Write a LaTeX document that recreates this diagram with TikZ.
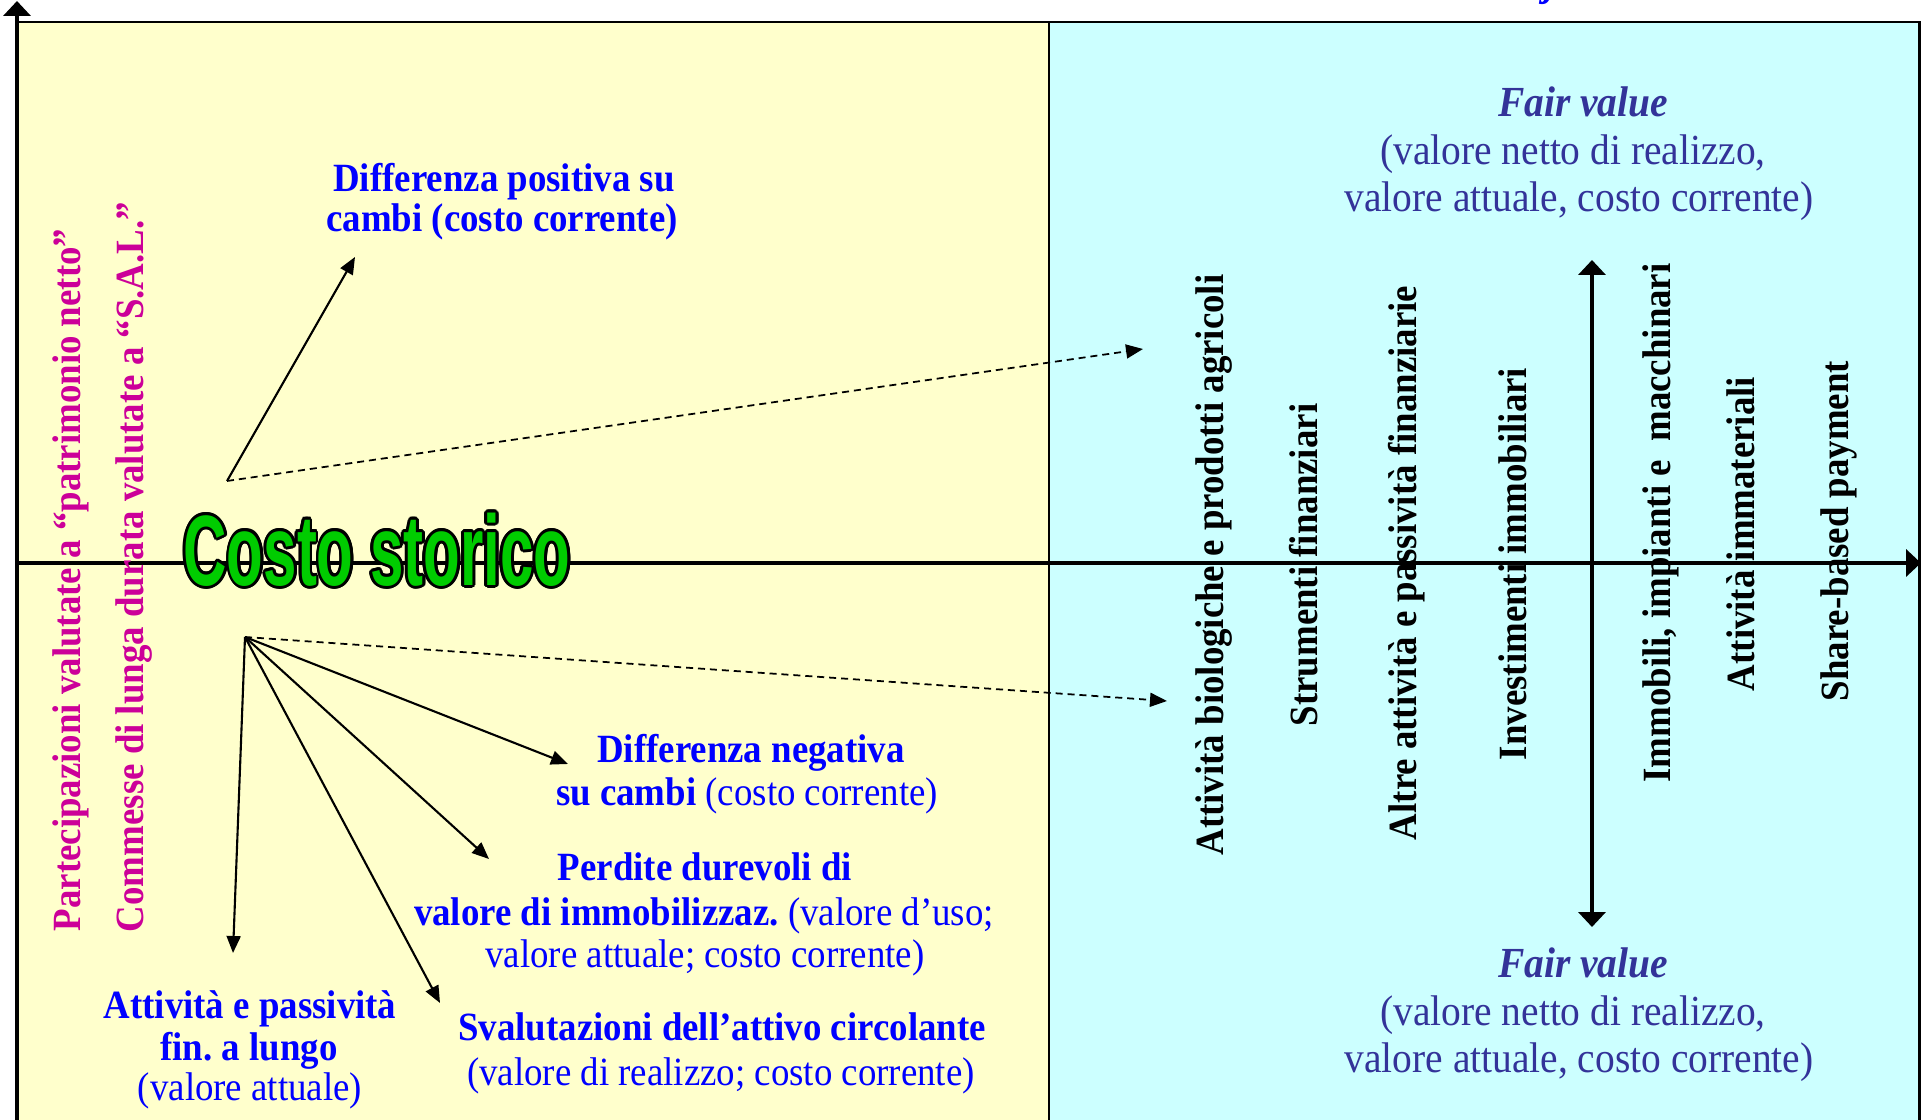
\documentclass[tikz,border=0pt]{standalone}
\usepackage{fontspec}
\setmainfont{Liberation Serif}[FakeStretch=0.92]
\newfontfamily\costofont{Liberation Sans}[FakeStretch=0.6]
\usepackage{xcolor}
\definecolor{paleyellow}{HTML}{FFFFCC}
\definecolor{palecyan}{HTML}{CCFFFF}
\definecolor{fairblue}{HTML}{333399}
\definecolor{magentatxt}{HTML}{CC0099}
\definecolor{costogreen}{HTML}{00CC00}
\usepackage[copies]{contour}
\usetikzlibrary{arrows.meta}
\tikzset{axtip/.tip={Triangle[width=0.27cm,length=0.15cm]},
         smtip/.tip={Triangle[width=0.14cm,length=0.17cm]}}
\frenchspacing

\begin{document}
\begin{tikzpicture}[
    txt/.style={anchor=base, inner sep=0pt, font=\fontsize{11.4}{13}\selectfont},
    bl/.style={txt, text=blue},
    blb/.style={bl, font=\fontsize{11.4}{13}\selectfont\bfseries},
    fv/.style={txt, text=fairblue, font=\fontsize{12.2}{14}\selectfont},
    vert/.style={txt, rotate=90, font=\fontsize{11.4}{13}\selectfont\bfseries},
    axe/.style={line width=1.4pt},
    arr/.style={line width=0.6pt, -smtip},
    darr/.style={line width=0.5pt, dash pattern=on 2pt off 1.4pt, -smtip}
]
\useasboundingbox (0,0) rectangle (19.21,11.19);

%%%% PANELS
\filldraw[fill=paleyellow, line width=0.85pt] (0.17,-0.2) rectangle (10.49,10.97);
\filldraw[fill=palecyan, line width=0.85pt] (10.49,-0.2) rectangle (19.19,10.97);
\node[txt, text=blue, font=\fontsize{12.2}{14}\selectfont\bfseries\itshape] (jbit) at (15.50,11.23) {j};

%%%% AXES
\coordinate (ybot) at (0.17,-0.2);
\coordinate (ytop) at (0.17,11.18);
\coordinate (xbeg) at (0.17,5.56);
\coordinate (xend) at (19.21,5.56);
\coordinate (fvbot) at (15.92,1.92);
\coordinate (fvtop) at (15.92,8.59);
\draw[axe, -axtip] (ybot) -- (ytop);
\draw[axe, -axtip] (xbeg) -- (xend);
\draw[axe, axtip-axtip] (fvbot) -- (fvtop);

%%%% COSTO STORICO
\node[text=costogreen, font=\costofont\bfseries\fontsize{28.45}{30}\selectfont] (costo) at (3.77,5.68)
  {\contourlength{0.8pt}\contour{black}{Costo storico}};

%%%% ARROWS
\coordinate (up) at (2.27,6.38);
\coordinate (down) at (2.45,4.82);
\coordinate (posend) at (3.55,8.62);
\coordinate (fvup) at (11.43,7.70);
\coordinate (fvdown) at (11.67,4.18);
\coordinate (negend) at (5.68,3.55);
\coordinate (perdend) at (4.89,2.60);
\coordinate (svalend) at (4.40,1.16);
\coordinate (attend) at (2.33,1.66);
\draw[arr] (up) -- (posend);
\draw[darr] (up) -- (fvup);
\draw[darr] (down) -- (fvdown);
\draw[arr] (down) -- (negend);
\draw[arr] (down) -- (perdend);
\draw[arr] (down) -- (svalend);
\draw[arr] (down) -- (attend);

%%%% LEFT LABELS
\node[blb] (pos1) at (5.04,9.27) {Differenza positiva su};
\node[blb] (pos2) at (5.02,8.87) {cambi (costo corrente)};
\node[blb] (neg1) at (7.51,3.57) {Differenza negativa};
\node[bl] (neg2) at (7.47,3.14) {\textbf{su cambi} (costo corrente)};
\node[blb] (perd1) at (7.05,2.39) {Perdite durevoli di};
\node[bl] (perd2) at (7.04,1.94) {\textbf{valore di immobilizzaz.} (valore d’uso;};
\node[bl] (perd3) at (7.05,1.51) {valore attuale; costo corrente)};
\node[blb] (sval1) at (7.22,0.79) {Svalutazioni dell’attivo circolante};
\node[bl] (sval2) at (7.21,0.34) {(valore di realizzo; costo corrente)};
\node[blb] (att1) at (2.50,1.01) {Attività e passività};
\node[blb] (att2) at (2.49,0.59) {fin. a lungo};
\node[bl] (att3) at (2.50,0.19) {(valore attuale)};

\node[vert, text=magentatxt] (partec) at (0.80,5.39) {Partecipazioni valutate a “patrimonio netto”};
\node[vert, text=magentatxt] (commesse) at (1.43,5.52) {Commesse di lunga durata valutate a “S.A.L.”};

%%%% FAIR VALUE
\node[fv, font=\fontsize{12.2}{14}\selectfont\bfseries\itshape] (fvt1) at (15.83,10.02) {Fair value};
\node[fv] (fvt2) at (15.73,9.54) {(valore netto di realizzo,};
\node[fv] (fvt3) at (15.79,9.07) {valore attuale, costo corrente)};
\node[fv, font=\fontsize{12.2}{14}\selectfont\bfseries\itshape] (fvb1) at (15.83,1.42) {Fair value};
\node[fv] (fvb2) at (15.73,0.94) {(valore netto di realizzo,};
\node[fv] (fvb3) at (15.79,0.47) {valore attuale, costo corrente)};

%%%% FAIR VALUE ITEMS
\node[vert] (biolog) at (12.23,5.54) {Attività biologiche e prodotti agricoli};
\node[vert] (strum) at (13.17,5.54) {Strumenti finanziari};
\node[vert] (altre) at (14.16,5.56) {Altre attività e passività finanziarie};
\node[vert] (invest) at (15.26,5.55) {Investimenti immobiliari};
\node[vert] (immob) at (16.70,5.96) {Immobili, impianti e\ \ macchinari};
\node[vert] (immat) at (17.54,5.85) {Attività immateriali};
\node[vert] (share) at (18.48,5.88) {Share-based payment};

\end{tikzpicture}
\end{document}
